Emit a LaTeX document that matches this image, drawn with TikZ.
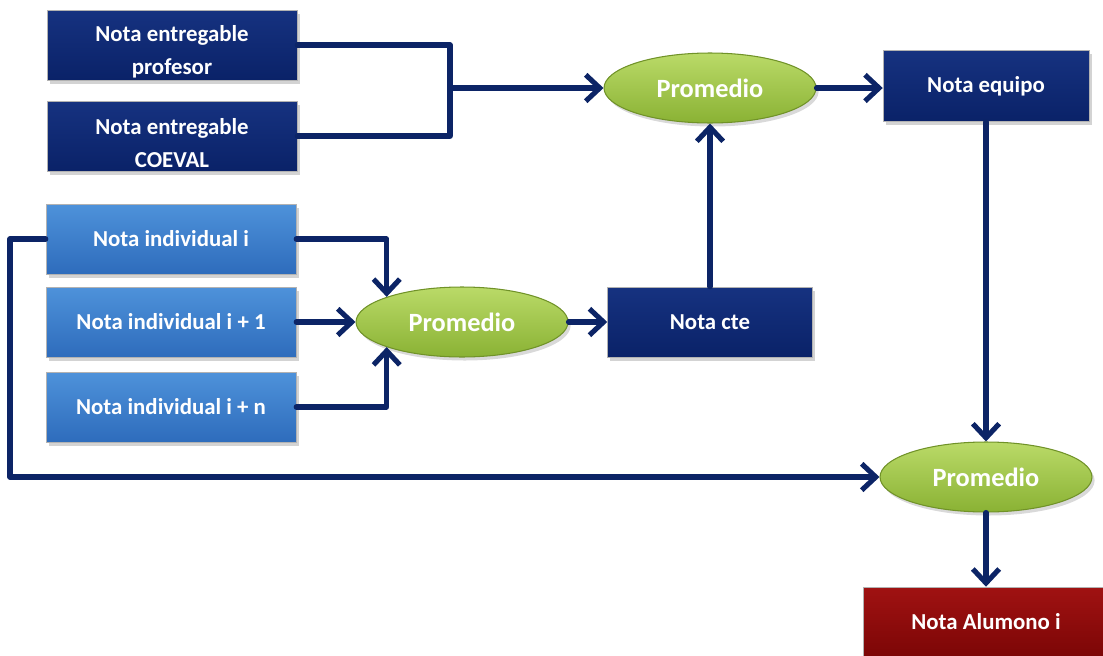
\documentclass[tikz,border=0pt]{standalone}
\usepackage{fontspec}
\setmainfont{Carlito}
\usetikzlibrary{calc}
\usetikzlibrary{positioning}
\usetikzlibrary{arrows.meta}
\usetikzlibrary{shapes.geometric}
\usetikzlibrary{shadows}
\definecolor{navyTop}{RGB}{22,50,128}
\definecolor{navyBot}{RGB}{10,34,104}
\definecolor{skyTop}{RGB}{78,146,218}
\definecolor{skyBot}{RGB}{46,108,188}
\definecolor{leafTop}{RGB}{186,218,104}
\definecolor{leafBot}{RGB}{138,178,52}
\definecolor{leafLine}{RGB}{112,146,40}
\definecolor{wineTop}{RGB}{160,18,18}
\definecolor{wineBot}{RGB}{124,6,6}
\definecolor{wire}{RGB}{12,36,102}
\newcommand{\lowstrut}{\rule{0pt}{17pt}}
\tikzset{
  baseBox/.style={%
    rectangle, minimum width=5cm, minimum height=1.4cm,
    text=white, font=\bfseries\fontsize{13}{18.5}\selectfont, align=center,
    draw=white!70!black, line width=0.3pt,
    drop shadow={opacity=0.35, shadow xshift=1.5pt, shadow yshift=-2pt},
  },
  navyBox/.style={baseBox, top color=navyTop, bottom color=navyBot},
  skyBox/.style={baseBox, top color=skyTop, bottom color=skyBot},
  wineBox/.style={baseBox, top color=wineTop, bottom color=wineBot},
  avgNode/.style={%
    ellipse, minimum width=4.24cm, minimum height=1.4cm, inner sep=0pt,
    top color=leafTop, bottom color=leafBot, draw=leafLine, line width=0.6pt,
    text=white, font=\bfseries\fontsize{15}{17}\selectfont,
    drop shadow={opacity=0.3, shadow xshift=1.5pt, shadow yshift=-2pt},
  },
  wireLine/.style={draw=wire, line width=2.9pt, line cap=round, line join=round},
  wireArrow/.style={wireLine, -{Straight Barb[length=8pt, width=15pt, line width=2.9pt]}},
}

\begin{document}
\begin{tikzpicture}[x=0.02cm, y=-0.02cm]
  \useasboundingbox (0,0) rectangle (1103,656);

  % inputs
  \node[navyBox, inner ysep=0pt] (nep) at (172,45) {\lowstrut Nota entregable\\profesor};
  \node[navyBox, inner ysep=0pt] (nec) at (172,136) {\lowstrut Nota entregable\\COEVAL};
  \node[skyBox] (ni1) at (171,239) {Nota individual i};
  \node[skyBox] (ni2) at (171,322) {Nota individual i + 1};
  \node[skyBox] (ni3) at (171,407) {Nota individual i + n};

  % averages
  \node[avgNode] (avgTop) at (710,88) {Promedio};
  \node[avgNode] (avgMid) at (462,322) {Promedio};
  \node[avgNode] (avgBot) at (986,477) {Promedio};

  % results
  \node[navyBox, minimum width=4.12cm, minimum height=1.42cm] (team) at (986,86) {Nota equipo};
  \node[navyBox, minimum width=4.1cm] (cte) at (710,322) {Nota cte};
  \node[wineBox, minimum width=4.92cm] (final) at (986,622) {Nota Alumono i};

  \coordinate (join) at (450,88);
  \coordinate (loop) at (10,477);

  \draw[wireLine] (nep.east) -| (join) |- (nec.east);
  \draw[wireArrow] (join) -- (avgTop.west);
  \draw[wireArrow] (ni1.east) -| (avgMid.north west);
  \draw[wireArrow] (ni2.east) -- (avgMid.west);
  \draw[wireArrow] (ni3.east) -| (avgMid.south west);
  \draw[wireArrow] (avgMid.east) -- (cte.west);
  \draw[wireArrow] (cte.north) -- (avgTop.south);
  \draw[wireArrow] (avgTop.east) -- (avgTop.east -| team.west);
  \draw[wireArrow] (team.south) -- (avgBot.north);
  \draw[wireArrow] (ni1.west) -| (loop) -- (avgBot.west);
  \draw[wireArrow] (avgBot.south) -- (final.north);
\end{tikzpicture}
\end{document}
